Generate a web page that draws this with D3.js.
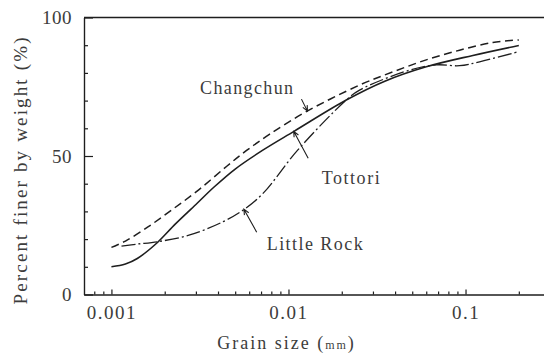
<!DOCTYPE html>
<html>
<head>
<meta charset="utf-8">
<script src="https://cdn.jsdelivr.net/npm/d3@7/dist/d3.min.js"></script>
<style>
  body { margin: 0; background: #fff; }
  svg text { font-family: "Liberation Serif", "DejaVu Serif", serif; fill: #3c3c3c; }
</style>
</head>
<body>
<svg id="chart" width="544" height="356"></svg>
<script>
// Grain size distribution curves (grain size in mm, percent finer by weight)
const changchunSize = [0.001, 0.0012, 0.0016, 0.0022, 0.0031, 0.0045, 0.0058, 0.0078, 0.0126, 0.0252, 0.039, 0.060, 0.0925, 0.1426, 0.2];
const changchunPct  = [17.0, 19.3, 24.3, 30.6, 37.7, 46.4, 52.0, 57.8, 66.0, 75.6, 80.4, 84.7, 88.2, 91.0, 91.9];

const tottoriSize = [0.001, 0.0012, 0.0014, 0.0018, 0.0023, 0.003, 0.0038, 0.005, 0.0072, 0.0108, 0.0212, 0.035, 0.060, 0.11, 0.2];
const tottoriPct  = [10.0, 11.0, 13.0, 18.5, 25.5, 32.5, 38.8, 45.3, 52.2, 59.0, 70.2, 77.0, 82.2, 86.3, 89.9];

const littleRockSize = [0.00114, 0.0014, 0.00184, 0.00277, 0.00428, 0.00555, 0.00718, 0.0113, 0.0212, 0.0252, 0.0483, 0.0684, 0.0925, 0.12, 0.2];
const littleRockPct  = [17.5, 18.2, 19.1, 21.5, 26.3, 30.5, 36.5, 52.2, 70.2, 73.8, 81.0, 82.9, 82.6, 84.0, 87.7];

// Axis ticks
const xMajorTicks = [0.001, 0.01, 0.1];
const xMajorLabels = ["0.001", "0.01", "0.1"];
const xMinorTicks = [0.0008, 0.0009,
  0.002, 0.003, 0.004, 0.005, 0.006, 0.007, 0.008, 0.009,
  0.02, 0.03, 0.04, 0.05, 0.06, 0.07, 0.08, 0.09, 0.2];
const yMinorTicks = [10, 20, 30, 40, 60, 70, 80, 90];
const yMajorTicks = [0, 50, 100];

// Curve labels: arrow tip sits on a curve point (size, pct)
const labelNames = ["Changchun", "Tottori", "Little Rock"];
const labelTipSize = [0.0128, 0.0107, 0.0056];
const labelTipPct  = [66.2, 58.9, 30.8];

const svg = d3.select("#chart");

const x = d3.scaleLog().domain([0.0007, 0.3]).range([84, 550]);
const y = d3.scaleLinear().domain([0, 100]).range([294.5, 17.5]);

const ink = "#1e1e1e";

// top frame line
svg.append("line")
  .attr("x1", x(0.0007)).attr("x2", x(0.3))
  .attr("y1", y(100)).attr("y2", y(100))
  .attr("stroke", ink).attr("stroke-width", 1.3);

// x axis: minor ticks, then major ticks with labels
svg.append("g").attr("transform", `translate(0,${y(0)})`)
  .call(d3.axisBottom(x).tickValues(xMinorTicks).tickSizeInner(-3).tickSizeOuter(0).tickFormat(""));
const gxMajor = svg.append("g").attr("transform", `translate(0,${y(0)})`)
  .call(d3.axisBottom(x).tickValues(xMajorTicks).tickSizeInner(-5).tickSizeOuter(0)
        .tickPadding(11).tickFormat((d, i) => xMajorLabels[i]));
gxMajor.selectAll("text").attr("font-size", 19).attr("letter-spacing", "1.5px");

// y axis
svg.append("g").attr("transform", `translate(${x(0.0007)},0)`)
  .call(d3.axisLeft(y).tickValues(yMinorTicks).tickSizeInner(-4).tickSizeOuter(0).tickFormat(""));
const gyMajor = svg.append("g").attr("transform", `translate(${x(0.0007)},0)`)
  .call(d3.axisLeft(y).tickValues(yMajorTicks).tickSizeInner(-9).tickSizeOuter(0)
        .tickPadding(12).tickFormat(d3.format("d")));
gyMajor.selectAll("text").attr("font-size", 19).attr("letter-spacing", "0.5px");

svg.selectAll(".domain, .tick line").attr("stroke", ink).attr("stroke-width", 1.2);
svg.selectAll(".tick text").attr("fill", "#3c3c3c");

// axis titles
svg.append("text")
  .attr("transform", `translate(26.5,${(y(0) + y(100)) / 2 + 15}) rotate(-90)`)
  .attr("text-anchor", "middle")
  .attr("font-size", 19)
  .attr("textLength", 267).attr("lengthAdjust", "spacing")
  .text("Percent finer by weight (%)");

const xt = svg.append("text")
  .attr("x", 286.5).attr("y", 349)
  .attr("text-anchor", "middle")
  .attr("font-size", 18)
  .attr("letter-spacing", "2px");
xt.append("tspan").text("Grain size (");
xt.append("tspan").attr("font-size", 12).text("mm");
xt.append("tspan").text(")");

// curves
const line = d3.line()
  .x(d => x(d[0])).y(d => y(d[1]))
  .curve(d3.curveCatmullRom.alpha(0.5));

const series = [
  { size: changchunSize, pct: changchunPct, dash: "8,4.5", w: 1.5 },
  { size: tottoriSize, pct: tottoriPct, dash: null, w: 1.6 },
  { size: littleRockSize, pct: littleRockPct, dash: "14,3,2,3", w: 1.3 }
];
series.forEach(s => {
  svg.append("path")
    .datum(s.size.map((v, i) => [v, s.pct[i]]))
    .attr("d", line)
    .attr("fill", "none")
    .attr("stroke", ink)
    .attr("stroke-width", s.w)
    .attr("stroke-dasharray", s.dash);
});

// annotation arrows and labels
const tailOffset = [[-6, -12], [14.5, 27], [12.8, 23]];
const textPos = [[200, 93.5], [321.7, 183.5], [266.7, 250]];
const textLen = [93, 58, 96];

labelNames.forEach((name, i) => {
  const tx = x(labelTipSize[i]), ty = y(labelTipPct[i]);
  const sx = tx + tailOffset[i][0], sy = ty + tailOffset[i][1];
  const ang = Math.atan2(ty - sy, tx - sx);
  const head = 6, spread = 0.42;
  const h1 = [tx - head * Math.cos(ang - spread), ty - head * Math.sin(ang - spread)];
  const h2 = [tx - head * Math.cos(ang + spread), ty - head * Math.sin(ang + spread)];
  svg.append("path")
    .attr("d", `M${sx},${sy}L${tx},${ty}M${h1[0]},${h1[1]}L${tx},${ty}L${h2[0]},${h2[1]}`)
    .attr("fill", "none").attr("stroke", ink).attr("stroke-width", 1.1);
  svg.append("text")
    .attr("x", textPos[i][0]).attr("y", textPos[i][1])
    .attr("font-size", 18)
    .attr("textLength", textLen[i]).attr("lengthAdjust", "spacing")
    .text(name);
});
</script>
</body>
</html>
